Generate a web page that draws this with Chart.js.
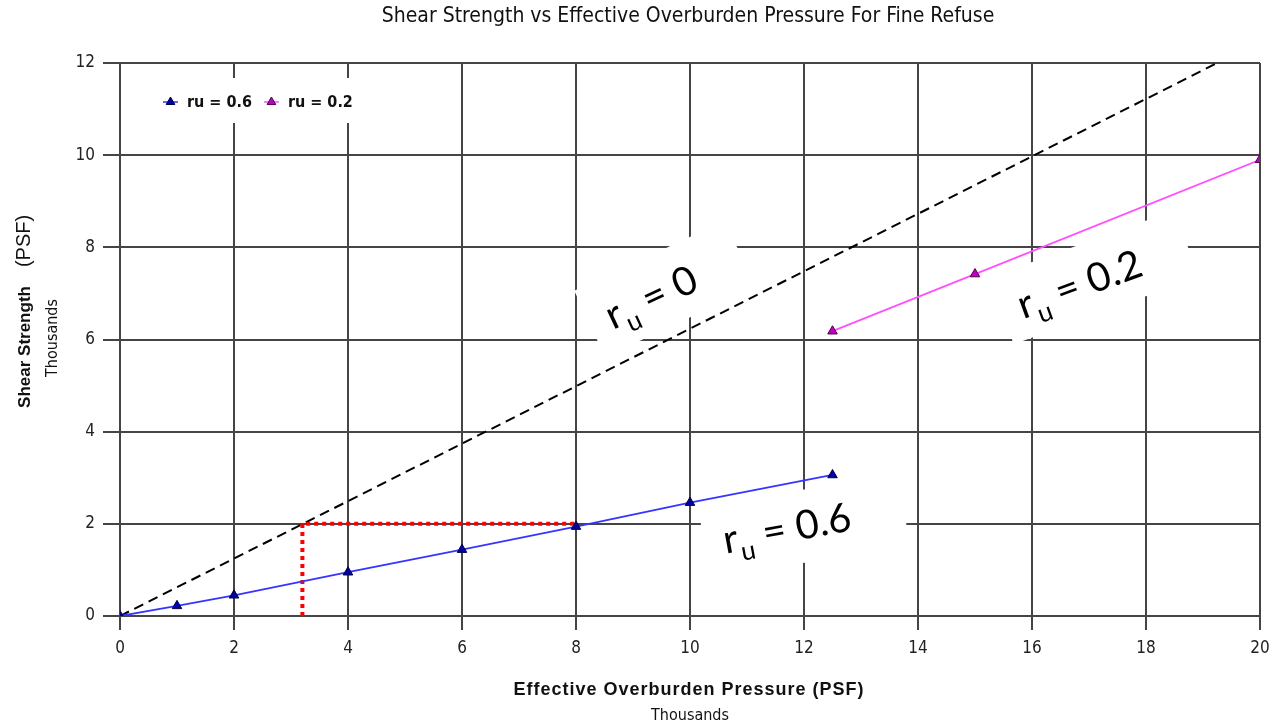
<!DOCTYPE html>
<html>
<head>
<meta charset="utf-8">
<script src="https://cdn.jsdelivr.net/npm/chart.js@4.4.0/dist/chart.umd.min.js"></script>
<style>
  html, body { margin: 0; padding: 0; background: #fff; }
  #wrap { width: 1283px; height: 723px; position: relative; }
</style>
</head>
<body>
<div id="wrap"><canvas id="chart"></canvas></div>
<script>
// Shear strength vs effective overburden pressure (thousands of PSF)
const xTicks = [0, 2, 4, 6, 8, 10, 12, 14, 16, 18, 20];
const yTicks = [0, 2, 4, 6, 8, 10, 12];

const ru06X = [0, 1, 2, 4, 6, 8, 10, 12.5];
const ru06Y = [0, 0.22, 0.45, 0.95, 1.44, 1.94, 2.46, 3.06];

const ru02X = [12.5, 15, 20];
const ru02Y = [6.18, 7.42, 9.9];

const ru0X = [0, 19.25];
const ru0Y = [0, 12];

const guideX = [3.2, 3.2, 8];
const guideY = [0, 2, 2];

const seriesNames = ['ru = 0.6', 'ru = 0.2'];
const noteValues = ['0', '0.6', '0.2'];

const chartTitle = 'Shear Strength vs Effective Overburden Pressure For Fine Refuse';
const xTitle = 'Effective Overburden Pressure (PSF)';
const yTitle = 'Shear Strength';
const yUnit = '(PSF)';
const scaleNote = 'Thousands';

// annotation placement (data units for the anchor, px for the boxes)
const notes = [
    { value: noteValues[0], tx: 9.33, ty: 6.86, bx: 9.56, by: 7.10, w: 166, h: 73, angle: -25 },
    { value: noteValues[1], tx: 11.70, ty: 1.84, bx: 12.0, by: 1.95, w: 202, h: 72, angle: -10.5 },
    { value: noteValues[2], tx: 16.84, ty: 7.14, bx: 17.09, by: 7.35, w: 197, h: 71, angle: -20 }
];

const NARROW = "'Liberation Sans Narrow', 'DejaVu Sans Condensed', 'Liberation Sans', sans-serif";
const SANS = "'Liberation Sans', Arial, sans-serif";
const NOTE_FONT = "Lato, 'Open Sans', sans-serif";
const GRID = '#454545';

const toPoints = (xs, ys) => xs.map((x, i) => ({ x: x, y: ys[i] }));

const overlay = {
    id: 'overlay',
    beforeDatasetsDraw(chart) {
        const { ctx, chartArea, scales: { x, y } } = chart;
        ctx.save();
        ctx.fillStyle = '#ffffff';
        // legend backdrop
        ctx.fillRect(chartArea.left + 2, 78, 298, 45);
        // text box backdrops
        notes.forEach(n => {
            ctx.save();
            ctx.translate(x.getPixelForValue(n.bx), y.getPixelForValue(n.by));
            ctx.rotate(n.angle * Math.PI / 180);
            ctx.fillRect(-n.w / 2, -n.h / 2, n.w, n.h);
            ctx.restore();
        });
        ctx.restore();
    },
    afterDatasetsDraw(chart) {
        const { ctx, scales: { x, y } } = chart;
        const size = 40;
        notes.forEach(n => {
            ctx.save();
            ctx.translate(x.getPixelForValue(n.tx), y.getPixelForValue(n.ty));
            ctx.rotate(n.angle * Math.PI / 180);
            ctx.fillStyle = '#000';
            ctx.textBaseline = 'alphabetic';
            ctx.textAlign = 'left';
            const rest = ' = ' + n.value;
            ctx.font = size + 'px ' + NOTE_FONT;
            const wr = ctx.measureText('r').width;
            const wRest = ctx.measureText(rest).width;
            ctx.font = Math.round(size * 0.66) + 'px ' + NOTE_FONT;
            const wu = ctx.measureText('u').width;
            let px = -(wr + wu + wRest) / 2;
            const base = 11;
            ctx.font = size + 'px ' + NOTE_FONT;
            ctx.fillText('r', px, base);
            px += wr + 1;
            ctx.font = Math.round(size * 0.66) + 'px ' + NOTE_FONT;
            ctx.fillText('u', px, base + 10);
            px += wu;
            ctx.font = size + 'px ' + NOTE_FONT;
            ctx.fillText(rest, px, base);
            ctx.restore();
        });

        // legend
        ctx.save();
        ctx.font = 'bold 16px ' + NARROW;
        ctx.textBaseline = 'middle';
        let lx = 163;
        const ly = 102;
        chart.data.datasets.slice(0, 2).forEach((ds, i) => {
            ctx.strokeStyle = ds.borderColor;
            ctx.lineWidth = 1.5;
            ctx.beginPath();
            ctx.moveTo(lx, ly);
            ctx.lineTo(lx + 15, ly);
            ctx.stroke();
            ctx.fillStyle = ds.pointBackgroundColor;
            ctx.strokeStyle = ds.pointBorderColor;
            ctx.lineWidth = 1;
            Chart.helpers.drawPoint(ctx, { pointStyle: 'triangle', radius: 5, rotation: 0, borderWidth: 1 }, lx + 7.5, ly);
            ctx.fillStyle = '#111';
            ctx.fillText(seriesNames[i], lx + 24, ly + 1);
            lx += 24 + ctx.measureText(seriesNames[i]).width + 12;
        });
        ctx.restore();
    },
    afterDraw(chart) {
        const { ctx } = chart;
        ctx.save();
        ctx.fillStyle = '#111';
        ctx.textAlign = 'center';
        ctx.textBaseline = 'middle';

        ctx.font = '21px ' + NARROW;
        ctx.fillText(chartTitle, 688, 17);

        ctx.save();
        ctx.font = 'bold 18px ' + SANS;
        ctx.letterSpacing = '1px';
        ctx.fillText(xTitle, 689, 690);
        ctx.restore();
        ctx.font = '16px ' + NARROW;
        ctx.fillText(scaleNote, 690, 716);

        ctx.save();
        ctx.translate(25, 347);
        ctx.rotate(-Math.PI / 2);
        ctx.font = 'bold 17px ' + SANS;
        ctx.fillText(yTitle, 0, 0);
        ctx.restore();

        ctx.save();
        ctx.translate(24, 241);
        ctx.rotate(-Math.PI / 2);
        ctx.font = '20px ' + SANS;
        ctx.fillText(yUnit, 0, 0);
        ctx.restore();

        ctx.save();
        ctx.translate(53, 338);
        ctx.rotate(-Math.PI / 2);
        ctx.font = '16px ' + NARROW;
        ctx.fillText(scaleNote, 0, 0);
        ctx.restore();

        ctx.restore();
    }
};

new Chart(document.getElementById('chart'), {
    type: 'scatter',
    data: {
        datasets: [
            {
                label: seriesNames[0],
                data: toPoints(ru06X, ru06Y),
                showLine: true,
                borderColor: '#3535ff',
                borderWidth: 1.8,
                pointStyle: 'triangle',
                pointRadius: 5.5,
                pointBackgroundColor: '#0000a8',
                pointBorderColor: '#000040',
                pointBorderWidth: 1
            },
            {
                label: seriesNames[1],
                data: toPoints(ru02X, ru02Y),
                showLine: true,
                borderColor: '#ff50ff',
                borderWidth: 1.8,
                pointStyle: 'triangle',
                pointRadius: 5.5,
                pointBackgroundColor: '#c000c0',
                pointBorderColor: '#500050',
                pointBorderWidth: 1
            },
            {
                label: 'guide',
                data: toPoints(guideX, guideY),
                showLine: true,
                borderColor: '#ff0000',
                borderWidth: 4,
                borderDash: [4, 4],
                pointRadius: 0
            },
            {
                label: 'ru = 0',
                data: toPoints(ru0X, ru0Y),
                showLine: true,
                borderColor: '#000000',
                borderWidth: 2,
                borderDash: [10, 6],
                pointRadius: 0
            }
        ]
    },
    options: {
        responsive: true,
        maintainAspectRatio: false,
        animation: false,
        layout: { padding: { top: 63, right: 23, left: 0, bottom: 0 } },
        plugins: {
            legend: { display: false },
            tooltip: { enabled: false }
        },
        scales: {
            x: {
                type: 'linear',
                min: 0,
                max: 20,
                afterBuildTicks: s => { s.ticks = xTicks.map(v => ({ value: v })); },
                afterFit: s => { s.height = 107; },
                grid: { color: GRID, lineWidth: 2, tickLength: 14, drawTicks: true },
                border: { display: true, color: GRID, width: 2 },
                ticks: { color: '#222', padding: 8, font: { family: NARROW, size: 17 } }
            },
            y: {
                type: 'linear',
                min: 0,
                max: 12,
                afterBuildTicks: s => { s.ticks = yTicks.map(v => ({ value: v })); },
                afterFit: s => { s.width = 120; },
                grid: { color: GRID, lineWidth: 2, tickLength: 17, drawTicks: true },
                border: { display: true, color: GRID, width: 2 },
                ticks: { color: '#222', padding: 8, font: { family: NARROW, size: 17 } }
            }
        }
    },
    plugins: [overlay]
});
</script>
</body>
</html>
